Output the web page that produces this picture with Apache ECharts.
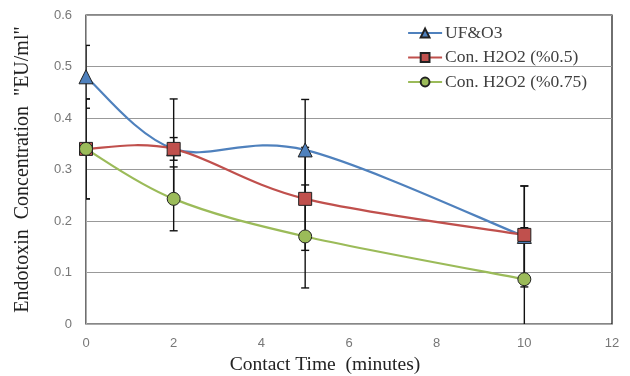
<!DOCTYPE html>
<html>
<head>
<meta charset="utf-8">
<script src="https://cdn.jsdelivr.net/npm/echarts@6/dist/echarts.min.js"></script>
<style>html,body{margin:0;padding:0;background:#fff}#c{width:630px;height:376px}</style>
</head>
<body>
<div id="c"></div>
<script>
var seriesNames = ['UF&O3', 'Con. H2O2 (%0.5)', 'Con. H2O2 (%0.75)'];
var times = [0, 2, 5, 10];
var ufo3 = [0.48, 0.34, 0.338, 0.17];
var h2o2_05 = [0.34, 0.34, 0.243, 0.173];
var h2o2_075 = [0.34, 0.243, 0.17, 0.087];
var errUfo3 = [0.061, 0.022, 0.098, 0.098];
var errH2o2_05 = [0.097, 0.097, 0.1, 0.095];
var errH2o2_075 = [0.097, 0.062, 0.1, 0.1];
var xTicks = [0, 2, 4, 6, 8, 10, 12];
var yTicks = [0, 0.1, 0.2, 0.3, 0.4, 0.5, 0.6];

var colors = ['#4F81BD', '#C0504D', '#9BBB59'];
var symbols = ['triangle', 'rect', 'circle'];
var sizes = [14, 13, 13];
var values = [ufo3, h2o2_05, h2o2_075];
var errs = [errUfo3, errH2o2_05, errH2o2_075];

function pairs(v) { return times.map(function (t, i) { return [t, v[i]]; }); }
function errData(v, e) { return times.map(function (t, i) { return [t, v[i] - e[i], v[i] + e[i]]; }); }

function errRender(params, api) {
  var x = api.value(0);
  var lo = api.coord([x, api.value(1)]);
  var hi = api.coord([x, api.value(2)]);
  var hw = 4;
  var st = { stroke: '#111', lineWidth: 1.4 };
  return {
    type: 'group',
    children: [
      { type: 'line', shape: { x1: lo[0], y1: lo[1], x2: hi[0], y2: hi[1] }, style: st },
      { type: 'line', shape: { x1: lo[0] - hw, y1: lo[1], x2: lo[0] + hw, y2: lo[1] }, style: st },
      { type: 'line', shape: { x1: hi[0] - hw, y1: hi[1], x2: hi[0] + hw, y2: hi[1] }, style: st }
    ]
  };
}

function curveRender(vals, color) {
  return function (params, api) {
    var n = times.length;
    var i = params.dataIndex;
    if (i >= n - 1) return null;
    function P(j) { j = Math.max(0, Math.min(n - 1, j)); return api.coord([times[j], vals[j]]); }
    var p0 = P(i - 1), p1 = P(i), p2 = P(i + 1), p3 = P(i + 2);
    var c1 = [p1[0] + (p2[0] - p0[0]) / 6, p1[1] + (p2[1] - p0[1]) / 6];
    var c2 = [p2[0] - (p3[0] - p1[0]) / 6, p2[1] - (p3[1] - p1[1]) / 6];
    return {
      type: 'bezierCurve',
      shape: { x1: p1[0], y1: p1[1], x2: p2[0], y2: p2[1], cpx1: c1[0], cpy1: c1[1], cpx2: c2[0], cpy2: c2[1] },
      style: { stroke: color, lineWidth: 2.2, fill: null }
    };
  };
}

var series = [];
for (var k = 0; k < 3; k++) {
  series.push({
    type: 'custom', name: 'err' + k, z: 1, silent: true, clip: true,
    data: errData(values[k], errs[k]), renderItem: errRender
  });
}
for (var k1 = 0; k1 < 3; k1++) {
  series.push({
    type: 'custom', name: 'curve' + k1, z: 2, silent: true, clip: true,
    data: pairs(values[k1]), renderItem: curveRender(values[k1], colors[k1])
  });
}
for (var k2 = 0; k2 < 3; k2++) {
  series.push({
    type: 'line',
    name: seriesNames[k2],
    z: 3 + k2,
    data: pairs(values[k2]),
    symbol: symbols[k2],
    symbolSize: sizes[k2],
    showSymbol: true,
    lineStyle: { color: colors[k2], width: 2.2, opacity: 0 },
    itemStyle: { color: colors[k2], borderColor: '#222', borderWidth: 1 }
  });
}

var legendData = seriesNames.map(function (n, i) {
  return { name: n, lineStyle: { color: colors[i], width: 2.2, opacity: 1 } };
});

var chart = echarts.init(document.getElementById('c'), null, { renderer: 'canvas' });
chart.setOption({
  animation: false,
  backgroundColor: '#fff',
  grid: { left: 86, right: 18, top: 15, bottom: 52, containLabel: false, outerBoundsMode: 'none',
    show: true, borderColor: '#111', borderWidth: 1.2, backgroundColor: 'transparent' },
  legend: {
    data: legendData,
    orient: 'vertical',
    left: 407,
    top: 24,
    padding: 0,
    itemWidth: 34,
    itemHeight: 11,
    itemGap: 6.5,
    textStyle: { fontFamily: 'Liberation Serif', fontSize: 17.5, color: '#404040', padding: [0, 0, 0, -2] }
  },
  xAxis: {
    type: 'value',
    min: 0, max: 12, interval: 2,
    name: 'Contact Time  (minutes)',
    nameLocation: 'middle',
    nameGap: 30,
    nameTextStyle: { fontFamily: 'Liberation Serif', fontSize: 19.5, color: '#222', padding: [0, 48, 0, 0] },
    axisLine: { show: true, lineStyle: { color: '#aaa', width: 1 } },
    axisTick: { show: false },
    splitLine: { show: false },
    axisLabel: { color: '#777', fontFamily: 'Liberation Sans', fontSize: 13, margin: 13,
      formatter: function (v) { return xTicks.indexOf(v) >= 0 ? String(v) : ''; } }
  },
  yAxis: {
    type: 'value',
    min: 0, max: 0.6, interval: 0.1,
    name: 'Endotoxin  Concentration  "EU/ml"',
    nameLocation: 'middle',
    nameGap: 53,
    nameTextStyle: { fontFamily: 'Liberation Serif', fontSize: 20, color: '#222' },
    axisLine: { show: true, lineStyle: { color: '#aaa', width: 1 } },
    axisTick: { show: false },
    splitLine: { show: true, lineStyle: { color: '#999', width: 1 } },
    axisLabel: { color: '#777', fontFamily: 'Liberation Sans', fontSize: 13, margin: 14,
      formatter: function (v) { var r = Math.round(v * 10) / 10; return yTicks.indexOf(r) >= 0 ? String(r) : ''; } }
  },
  series: series
});
</script>
</body>
</html>
